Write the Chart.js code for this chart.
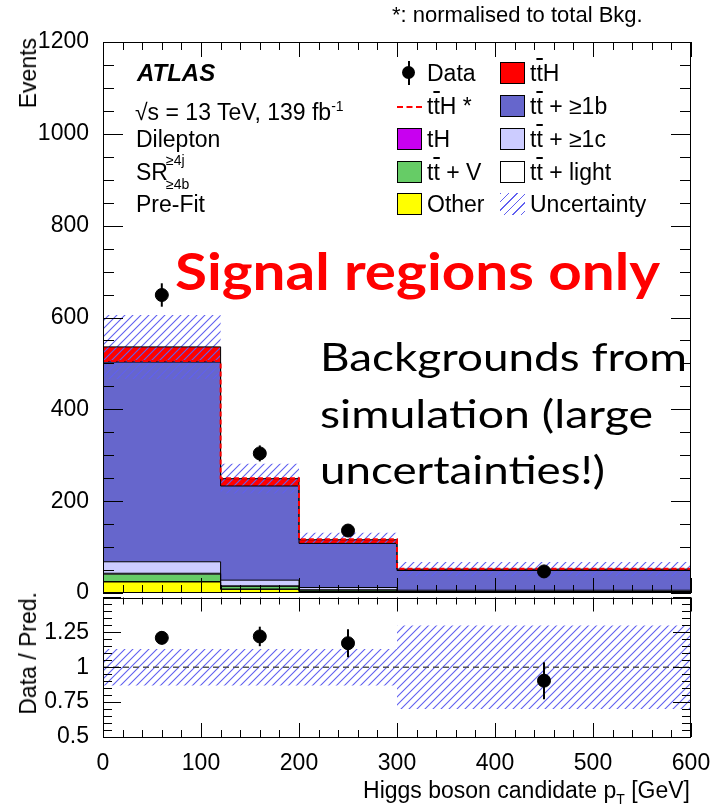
<!DOCTYPE html>
<html>
<head>
<meta charset="utf-8">
<script src="https://cdn.jsdelivr.net/npm/chart.js@4.4.1/dist/chart.umd.min.js"></script>
<style>
  body { margin: 0; background: #fff; width: 714px; height: 808px; overflow: hidden; position: relative;
         font-family: 'Liberation Sans', Arial, sans-serif; color: #000; }
  canvas { position: absolute; left: 0; }
  #mainChart { top: 0; }
  #ratioChart { top: 590px; }
  .t { position: absolute; white-space: nowrap; height: 40px; line-height: 40px; font-size: 23px; }
  .sw { position: absolute; width: 25px; height: 22px; box-sizing: border-box; border: 1px solid #000; }
  .ov { text-decoration: overline; }
  .vt { position: absolute; writing-mode: vertical-rl; transform: rotate(180deg); font-size: 23px; line-height: 30px; width: 30px; white-space: nowrap; }
  .big { font-family: Lato, 'Open Sans', sans-serif; transform-origin: 0 50%; }
</style>
</head>
<body>
<canvas id="mainChart" width="714" height="612"></canvas>
<canvas id="ratioChart" width="714" height="218"></canvas>
<div id="labels"></div>
<script>
// bins of the Higgs candidate pT histogram
const binEdges = [0, 120, 200, 300, 600];
const binCentres = [60, 160, 250, 450];

// observed events
const dataEvents = [649, 304, 136, 47];
const dataErr = [25.5, 17.4, 11.7, 6.9];

// pre-fit predictions, stacked bottom -> top
const other = [24, 8, 3, 1.5];
const tH = [1, 0.5, 0.3, 0.2];
const ttV = [16, 6, 3, 1.3];
const ttLight = [2, 1, 0.5, 0.5];
const ttC = [25, 12.5, 5.2, 2.5];
const ttB = [435, 205, 96, 43];
const ttH = [33, 16, 8, 3];
// ttH normalised to total background
const ttHNorm = [505, 250, 117, 53];
// relative uncertainty of the prediction
const relUnc = [0.13, 0.13, 0.13, 0.30];

// tick labels
const xTicks = [0, 100, 200, 300, 400, 500, 600];
const mainYTicks = [0, 200, 400, 600, 800, 1000, 1200];
const ratioYTicks = [0.5, 0.75, 1, 1.25];

const FONT = "'Liberation Sans', Arial, sans-serif";
const HATCH = 'rgb(96, 96, 240)';

// step histogram points (value at left edge runs to the next edge)
function stepPts(vals) {
  return binEdges.map((x, i) => ({ x: x, y: vals[Math.min(i, vals.length - 1)] }));
}

// hatched pattern for the uncertainty
const hatch = (() => {
  const c = document.createElement('canvas');
  c.width = 8; c.height = 8;
  const g = c.getContext('2d');
  g.strokeStyle = HATCH;
  g.lineWidth = 1.1;
  g.beginPath();
  g.moveTo(0, 8); g.lineTo(8, 0);
  g.moveTo(-1, 1); g.lineTo(1, -1);
  g.moveTo(7, 9); g.lineTo(9, 7);
  g.stroke();
  return g.createPattern(c, 'repeat');
})();

// ROOT style frame with inward ticks on all sides
const frame = {
  id: 'frame',
  afterDraw(chart, args, o) {
    const { ctx, chartArea: a, scales: { x, y } } = chart;
    const isMult = (v, s) => Math.abs(v / s - Math.round(v / s)) < 1e-6;
    ctx.save();
    ctx.strokeStyle = '#000';
    ctx.lineWidth = 1;
    ctx.beginPath();
    for (let v = x.min; v <= x.max + 1e-9; v += o.xMinor) {
      const px = Math.round(x.getPixelForValue(v)) + 0.5;
      const len = isMult(v, o.xMajor) ? o.xMajLen : o.xMinLen;
      ctx.moveTo(px, a.bottom); ctx.lineTo(px, a.bottom - len);
      ctx.moveTo(px, a.top); ctx.lineTo(px, a.top + len);
    }
    for (let v = y.min; v <= y.max + 1e-9; v += o.yMinor) {
      const py = Math.round(y.getPixelForValue(v)) + 0.5;
      const len = isMult(v, o.yMajor) ? o.yMajLen : o.yMinLen;
      ctx.moveTo(a.left, py); ctx.lineTo(a.left + len, py);
      ctx.moveTo(a.right, py); ctx.lineTo(a.right - len, py);
    }
    ctx.stroke();
    ctx.strokeRect(Math.round(a.left) + 0.5, Math.round(a.top) + 0.5,
                   Math.round(a.right - a.left) - 1, Math.round(a.bottom - a.top) - 1);
    ctx.restore();
  }
};

// vertical error bars for datasets carrying yErr
const errorBars = {
  id: 'errorBars',
  afterDatasetsDraw(chart) {
    const { ctx, scales: { x, y } } = chart;
    chart.data.datasets.forEach(ds => {
      if (!ds.yErr) return;
      ctx.save();
      ctx.strokeStyle = '#000';
      ctx.lineWidth = 2;
      ds.data.forEach((p, i) => {
        const px = x.getPixelForValue(p.x);
        ctx.beginPath();
        ctx.moveTo(px, y.getPixelForValue(p.y - ds.yErr[i]));
        ctx.lineTo(px, y.getPixelForValue(p.y + ds.yErr[i]));
        ctx.stroke();
      });
      ctx.restore();
    });
  }
};

// keep the plot frame where it is, whatever the labels need
function noPad(s) {
  s.paddingTop = 0; s.paddingBottom = 0; s.paddingLeft = 0; s.paddingRight = 0;
}

// build the stack
const components = [
  { vals: other, color: '#ffff00' },
  { vals: tH, color: '#c800f0' },
  { vals: ttV, color: '#66cc66' },
  { vals: ttLight, color: '#ffffff' },
  { vals: ttC, color: '#ccccff' },
  { vals: ttB, color: '#6666cc' },
  { vals: ttH, color: '#ff0000' }
];
let running = [0, 0, 0, 0];
const stackSets = components.map((c, k) => {
  running = running.map((r, i) => r + c.vals[i]);
  return {
    data: stepPts(running),
    stepped: true,
    borderColor: '#000',
    borderWidth: 1,
    backgroundColor: c.color,
    fill: k === 0 ? 'origin' : '-1',
    pointRadius: 0,
    order: 20 - k
  };
});
const total = running;

const mainChart = new Chart(document.getElementById('mainChart'), {
  type: 'line',
  data: {
    datasets: [
      {
        data: binCentres.map((x, i) => ({ x: x, y: dataEvents[i] })),
        yErr: dataErr,
        showLine: false,
        pointRadius: 6.5,
        pointBackgroundColor: '#000',
        pointBorderColor: '#000',
        order: 0
      },
      {
        data: stepPts(ttHNorm),
        stepped: true,
        borderColor: '#ff0000',
        borderWidth: 2,
        borderDash: [5, 3],
        pointRadius: 0,
        fill: false,
        order: 1
      },
      {
        data: stepPts(total.map((t, i) => t * (1 - relUnc[i]))),
        stepped: true,
        borderColor: 'transparent',
        borderWidth: 0,
        pointRadius: 0,
        fill: false,
        order: 3
      },
      {
        data: stepPts(total.map((t, i) => t * (1 + relUnc[i]))),
        stepped: true,
        borderColor: 'transparent',
        borderWidth: 0,
        backgroundColor: hatch,
        pointRadius: 0,
        fill: '-1',
        order: 2
      },
      ...stackSets
    ]
  },
  options: {
    responsive: false,
    animation: false,
    devicePixelRatio: 1,
    layout: { padding: { top: 42, right: 23, bottom: 19, left: 0 } },
    plugins: {
      legend: { display: false },
      tooltip: { enabled: false },
      filler: { drawTime: 'beforeDatasetsDraw' },
      frame: { xMajor: 100, xMinor: 20, yMajor: 200, yMinor: 50, xMajLen: 15, xMinLen: 8, yMajLen: 20, yMinLen: 11 }
    },
    scales: {
      x: { type: 'linear', min: 0, max: 600, display: false },
      y: {
        min: 0, max: 1200,
        afterBuildTicks: s => { s.ticks = mainYTicks.map(v => ({ value: v })); },
        afterFit: s => { s.width = 103; noPad(s); },
        grid: { display: false },
        border: { display: false },
        ticks: { color: '#000', padding: 6, font: { family: FONT, size: 23 }, callback: v => String(v) }
      }
    }
  },
  plugins: [frame, errorBars]
});

const ratioChart = new Chart(document.getElementById('ratioChart'), {
  type: 'line',
  data: {
    datasets: [
      {
        data: binCentres.map((x, i) => ({ x: x, y: dataEvents[i] / total[i] })),
        yErr: dataErr.map((e, i) => e / total[i]),
        showLine: false,
        pointRadius: 6.5,
        pointBackgroundColor: '#000',
        pointBorderColor: '#000',
        order: 0
      },
      {
        data: [{ x: 0, y: 1 }, { x: 600, y: 1 }],
        borderColor: '#555',
        borderWidth: 1.5,
        borderDash: [6, 4],
        pointRadius: 0,
        fill: false,
        order: 1
      },
      {
        data: stepPts(relUnc.map(u => 1 - u)),
        stepped: true,
        borderColor: 'transparent',
        borderWidth: 0,
        pointRadius: 0,
        fill: false,
        order: 3
      },
      {
        data: stepPts(relUnc.map(u => 1 + u)),
        stepped: true,
        borderColor: 'transparent',
        borderWidth: 0,
        backgroundColor: hatch,
        pointRadius: 0,
        fill: '-1',
        order: 2
      }
    ]
  },
  options: {
    responsive: false,
    animation: false,
    devicePixelRatio: 1,
    layout: { padding: { top: 5, right: 23, bottom: 0, left: 0 } },
    plugins: {
      legend: { display: false },
      tooltip: { enabled: false },
      frame: { xMajor: 100, xMinor: 20, yMajor: 0.25, yMinor: 0.05, xMajLen: 14, xMinLen: 7, yMajLen: 18, yMinLen: 9 }
    },
    scales: {
      x: {
        type: 'linear', min: 0, max: 600,
        afterBuildTicks: s => { s.ticks = xTicks.map(v => ({ value: v })); },
        afterFit: s => { s.height = 71; noPad(s); },
        grid: { display: false },
        border: { display: false },
        ticks: { color: '#000', padding: 5, autoSkip: false, maxRotation: 0, font: { family: FONT, size: 23 } }
      },
      y: {
        min: 0.5, max: 1.5,
        afterBuildTicks: s => { s.ticks = ratioYTicks.map(v => ({ value: v })); },
        afterFit: s => { s.width = 103; noPad(s); },
        grid: { display: false },
        border: { display: false },
        ticks: { color: '#000', padding: 6, font: { family: FONT, size: 23 }, callback: v => String(v) }
      }
    }
  },
  plugins: [frame, errorBars]
});

// text, legend and annotations
const holder = document.getElementById('labels');
function label(html, x, cy, css) {
  const d = document.createElement('div');
  d.className = 't';
  d.innerHTML = html;
  d.style.left = x + 'px';
  d.style.top = (cy - 20) + 'px';
  if (css) Object.assign(d.style, css);
  holder.appendChild(d);
  return d;
}
function swatch(x, cy, css) {
  const d = document.createElement('div');
  d.className = 'sw';
  d.style.left = x + 'px';
  d.style.top = (cy - 11) + 'px';
  Object.assign(d.style, css);
  holder.appendChild(d);
}
const tt = 't<span class="ov">t</span>';

label('*: normalised to total Bkg.', 392, 15, { fontSize: '22px' });
label('<b><i>ATLAS</i></b>', 137, 73, { fontSize: '24px' });
label('&radic;s = 13 TeV, 139 fb<sup style="font-size:14px;vertical-align:9px">-1</sup>', 135, 106);
label('Dilepton', 136, 139);
label('SR', 136, 172);
label('&ge;4j', 166, 160, { fontSize: '14px' });
label('&ge;4b', 166, 184, { fontSize: '14px' });
label('Pre-Fit', 136, 204);

// legend column 1
const dot = document.createElement('div');
Object.assign(dot.style, { position: 'absolute', left: '402px', top: '66px', width: '13px', height: '13px', borderRadius: '50%', background: '#000' });
holder.appendChild(dot);
const bar = document.createElement('div');
Object.assign(bar.style, { position: 'absolute', left: '407.5px', top: '61px', width: '2px', height: '24px', background: '#000' });
holder.appendChild(bar);
label('Data', 427, 73);
const dash = document.createElement('div');
Object.assign(dash.style, { position: 'absolute', left: '397px', top: '106px', width: '25px', borderTop: '2px dashed #ff0000' });
holder.appendChild(dash);
label(tt + 'H *', 427, 106);
swatch(397, 139, { background: '#c800f0' });
label('tH', 427, 139);
swatch(397, 172, { background: '#66cc66' });
label(tt + ' + V', 427, 172);
swatch(397, 204, { background: '#ffff00' });
label('Other', 427, 204);

// legend column 2
swatch(500, 73, { background: '#ff0000' });
label(tt + 'H', 530, 73);
swatch(500, 106, { background: '#6666cc' });
label(tt + ' + &ge;1b', 530, 106);
swatch(500, 139, { background: '#ccccff' });
label(tt + ' + &ge;1c', 530, 139);
swatch(500, 172, { background: '#ffffff' });
label(tt + ' + light', 530, 172);
swatch(500, 204, { border: 'none', background: 'repeating-linear-gradient(135deg, ' + HATCH + ' 0 1px, transparent 1px 6px)' });
label('Uncertainty', 530, 204);

// axis titles
const ev = document.createElement('div');
ev.className = 'vt'; ev.textContent = 'Events';
Object.assign(ev.style, { left: '13px', top: '38px' });
holder.appendChild(ev);
const rt = document.createElement('div');
rt.className = 'vt'; rt.textContent = 'Data / Pred.';
Object.assign(rt.style, { left: '13px', top: '592px' });
holder.appendChild(rt);
const xt = label('Higgs boson candidate p<sub style="font-size:14px;vertical-align:-6px">T</sub> [GeV]', 0, 790);
xt.style.left = '';
xt.style.right = (714 - 690) + 'px';

// annotations
const big = [
  label('Signal regions only', 175, 270, { fontSize: '52px', fontWeight: 'bold', color: '#ff0000', height: '70px', lineHeight: '70px', top: '235px' }),
  label('Backgrounds from', 320, 356, { fontSize: '38px', fontWeight: '400', height: '60px', lineHeight: '60px', top: '326px' }),
  label('simulation (large', 320, 413, { fontSize: '38px', fontWeight: '400', height: '60px', lineHeight: '60px', top: '383px' }),
  label('uncertainties!)', 320, 469, { fontSize: '38px', fontWeight: '400', height: '60px', lineHeight: '60px', top: '439px' })
];
const bigWidths = [485, 367, 333, 285];
function fitBig() {
  big.forEach((d, i) => {
    d.classList.add('big');
    d.style.transform = 'none';
    const w = d.getBoundingClientRect().width;
    d.style.transform = 'scaleX(' + (bigWidths[i] / w) + ')';
  });
}
fitBig();
if (document.fonts) document.fonts.ready.then(fitBig);
</script>
</body>
</html>
